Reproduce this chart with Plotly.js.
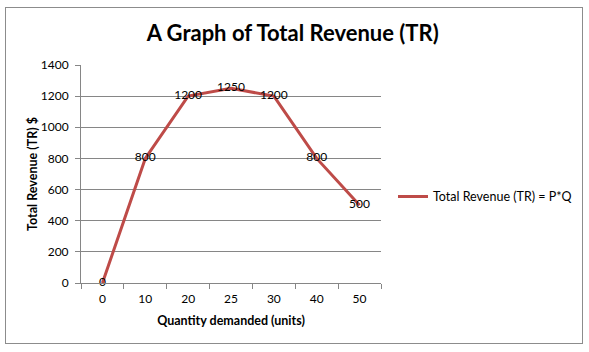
<!DOCTYPE html>
<html>
<head>
<meta charset="utf-8">
<script src="https://cdn.plot.ly/plotly-3.0.1.min.js"></script>
<style>
html,body{margin:0;padding:0;background:#fff;}
#wrap{position:relative;width:589px;height:352px;}
#chart{position:absolute;left:0;top:0;width:589px;height:352px;}
#frame{position:absolute;left:5px;top:7px;width:576px;height:335px;border:1px solid #8c8c8c;pointer-events:none;}
</style>
</head>
<body>
<div id="wrap"><div id="chart"></div><div id="frame"></div></div>
<script>
var quantities = ["0", "10", "20", "25", "30", "40", "50"];
var totalRevenue = [0, 800, 1200, 1250, 1200, 800, 500];
var labels = ["0", "800", "1200", "1250", "1200", "800", "500"];
var yTicks = [0, 200, 400, 600, 800, 1000, 1200, 1400];

var font = "Lato, 'Open Sans', sans-serif";

var trace = {
  x: quantities,
  y: totalRevenue,
  type: "scatter",
  mode: "lines+text",
  name: "Total Revenue (TR) = P*Q",
  text: labels,
  textposition: "middle center",
  textfont: {family: font, size: 12, color: "#000"},
  line: {color: "#BE4B48", width: 3},
  cliponaxis: false
};

var layout = {
  width: 589, height: 352,
  margin: {l: 81, r: 208, t: 65, b: 69},
  paper_bgcolor: "#fff", plot_bgcolor: "#fff",
  font: {family: font, size: 12, color: "#000"},
  title: {
    text: "<b>A Graph of Total Revenue (TR)</b>",
    font: {family: font, size: 22, color: "#000"},
    x: 0.497, xanchor: "center", y: 0.905, yanchor: "middle"
  },
  xaxis: {
    type: "category",
    range: [-0.5, 6.5],
    title: {text: "<b>Quantity demanded (units)</b>", font: {family: font, size: 12.5, color: "#000"}, standoff: 10},
    showline: true, linecolor: "#868686", linewidth: 1,
    ticks: "outside", tickson: "boundaries", ticklen: 5, tickcolor: "#868686",
    ticklabelstandoff: 5,
    showgrid: false, zeroline: false,
    tickfont: {family: font, size: 12, color: "#000"}
  },
  yaxis: {
    range: [0, 1400],
    tickvals: yTicks,
    ticktext: yTicks.map(String),
    title: {text: "<b>Total Revenue (TR) $</b>", font: {family: font, size: 12.5, color: "#000"}, standoff: 0},
    showline: true, linecolor: "#868686", linewidth: 1,
    ticks: "outside", ticklen: 5, tickcolor: "#868686",
    ticklabelstandoff: 4,
    showgrid: true, gridcolor: "#868686", gridwidth: 1,
    zeroline: false,
    tickfont: {family: font, size: 12, color: "#000"}
  },
  showlegend: true,
  legend: {
    x: 1.04, xanchor: "left", y: 0.395, yanchor: "middle",
    font: {family: font, size: 12.5, color: "#000"},
    bgcolor: "rgba(0,0,0,0)", itemwidth: 30
  }
};

Plotly.newPlot("chart", [trace], layout, {displayModeBar: false, staticPlot: true});
</script>
</body>
</html>
